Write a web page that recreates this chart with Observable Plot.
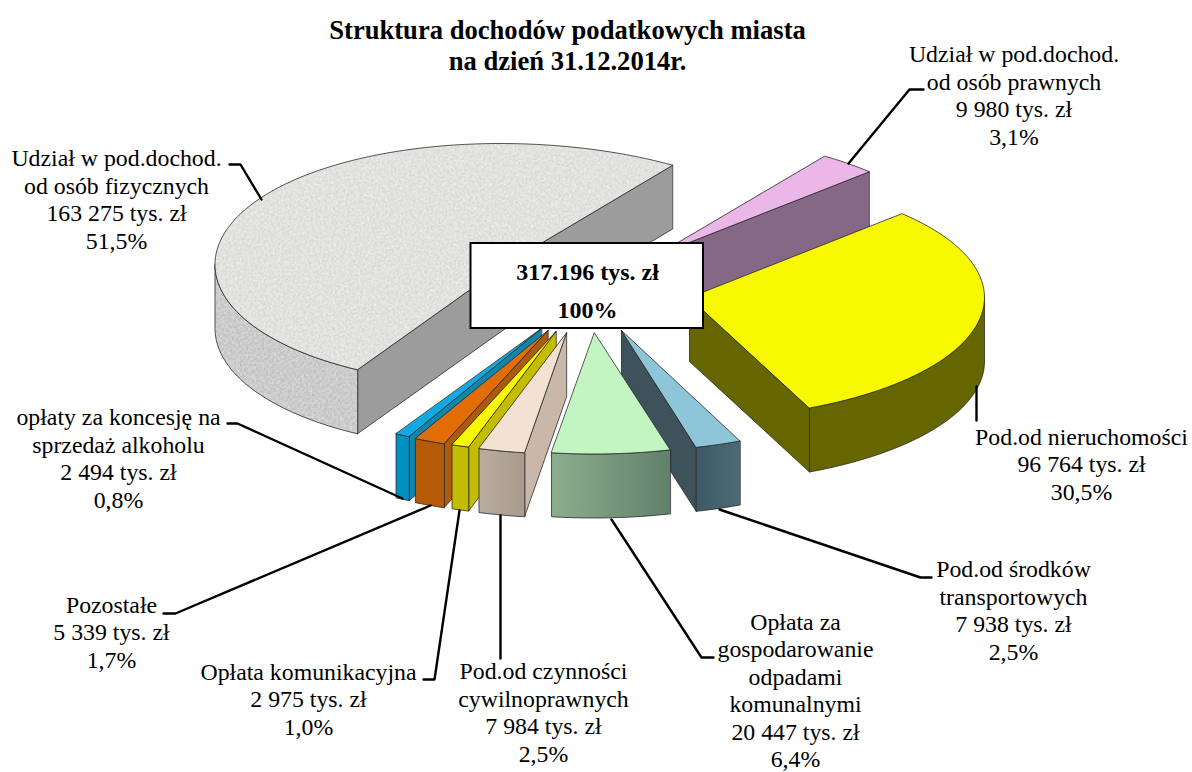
<!DOCTYPE html>
<html lang="pl">
<head>
<meta charset="utf-8">
<title>Struktura dochodów podatkowych miasta</title>
<script src="https://cdn.jsdelivr.net/npm/d3@7"></script>
<script src="https://cdn.jsdelivr.net/npm/@observablehq/plot@0.6"></script>
<style>html,body{margin:0;padding:0;background:#fff}</style>
</head>
<body>
<div id="chart"></div>
<script>
// ---------- data (clockwise from the pink slice) ----------
const categories = [
  "Udział w pod.dochod.\nod osób prawnych",
  "Pod.od nieruchomości",
  "Pod.od środków\ntransportowych",
  "Opłata za\ngospodarowanie\nodpadami\nkomunalnymi",
  "Pod.od czynności\ncywilnoprawnych",
  "Opłata komunikacyjna",
  "Pozostałe",
  "opłaty za koncesję na\nsprzedaż alkoholu",
  "Udział w pod.dochod.\nod osób fizycznych"
];
const amounts = [9980, 96764, 7938, 20447, 7984, 2975, 5339, 2494, 163275];
const amountLabels = ["9 980 tys. zł","96 764 tys. zł","7 938 tys. zł","20 447 tys. zł","7 984 tys. zł","2 975 tys. zł","5 339 tys. zł","2 494 tys. zł","163 275 tys. zł"];
const shareLabels = ["3,1%","30,5%","2,5%","6,4%","2,5%","1,0%","1,7%","0,8%","51,5%"];
const titleLines = "Struktura dochodów podatkowych miasta\nna dzień 31.12.2014r.";
const totalLines = ["317.196 tys. zł", "100%"];

// ---------- layout and style ----------
const W = 1192, H = 772;
const RX = 295.5, RY = 121, DEPTH = 64, START = -55.2;
const apexX = [655.5, 689, 621, 594, 566, 555.5, 547.5, 541, 505];
const apexY = [255, 297, 330, 332.5, 332.5, 331, 330, 328, 264];
const rimCx = [655.5, 688.5, 619, 593, 566, 555.5, 547.5, 541, 500];
const bend = [0, 0, 0, 0, 0, 0, 0, 0, 10];
const topFill = ["#ebb6e8","#f8f800","#8ec5d8","#c3f5c3","#f3e1d3","#f8f800","#e26c05","#10a9e2","url(#graniteTop)"];
const sideFill = ["#856786","#666600","#3d525a","#64806a","#c9b8aa","#c4bc00","#ad5a0c","#0e86ae","#9c9c9c"];
const rimFill = ["#856786","#666600","url(#rimTeal)","url(#rimGreen)","url(#rimBeige)","#c4bc00","#b65a07","#0090c2","url(#graniteSide)"];

const labelX = [1013.5, 1081, 1013, 795, 543, 308, 111, 118, 116];
const labelY = [94, 463, 609, 689, 711, 698, 631, 457, 198];
const labelLeading = [1.165, 1.165, 1.165, 1.155, 1.165, 1.165, 1.165, 1.165, 1.165];
const leaders = [
  [[848,163],[909,89],[923,89]],
  [[976,386],[976,420]],
  [[719,509],[920,577],[931,577]],
  [[611,519],[701,657],[713,657]],
  [[500,515],[500,658]],
  [[459,510],[434,679],[423,679]],
  [[430,505],[175,613],[163,613]],
  [[402,498],[237,423],[227,423]],
  [[261,199],[240,164],[229,164]]
];

// ---------- slice geometry from the values ----------
const total = d3.sum(amounts);
const sweep = amounts.map(v => v / total * 360);
const rad = d => d * Math.PI / 180;
const polys = [];
let a0 = START;
const slices = amounts.map((v, i) => {
  const s = {i, a0, a1: a0 + sweep[i]};
  a0 = s.a1;
  return s;
});
function rim(i, a) {
  const c = Math.cos(rad(a)), s = Math.sin(rad(a));
  return [rimCx[i] + RX * c + bend[i] * c * c, apexY[i] + RY * s];
}
function arc(i, from, to) {
  const n = Math.max(2, Math.ceil(Math.abs(to - from) / 2));
  return d3.range(n + 1).map(k => rim(i, from + (to - from) * k / n));
}
function add(id, pts, fill) { pts.forEach(p => polys.push({id, x: p[0], y: p[1], fill})); }
const down = p => [p[0], p[1] + DEPTH];

function sliceFaces(s) {
  const i = s.i, A = [apexX[i], apexY[i]];
  const p0 = rim(i, s.a0), p1 = rim(i, s.a1);
  // radial faces that look towards the viewer
  if (p1[0] > A[0]) add(`r1${i}`, [p1, A, down(A), down(p1)], sideFill[i]);
  if (p0[0] < A[0]) add(`r0${i}`, [A, p0, down(p0), down(A)], sideFill[i]);
  // outer wall: only the front half of the ellipse is visible
  for (const off of [0, 360]) {
    const f = Math.max(s.a0, off), t = Math.min(s.a1, off + 180);
    if (t > f) {
      const top = arc(i, f, t);
      add(`w${i}${off}`, [...top, ...top.slice().reverse().map(down)], rimFill[i]);
    }
  }
  add(`t${i}`, [A, ...arc(i, s.a0, s.a1)], topFill[i]);
}
// back-to-front
[8, 0, 1, 2, 3, 7, 6, 5, 4].forEach(i => sliceFaces(slices[i]));

const labels = categories.map((c, i) => ({
  x: labelX[i], y: labelY[i], leading: labelLeading[i],
  text: [c, amountLabels[i], shareLabels[i]].join("\n")
}));
const leaderRows = leaders.flatMap((l, i) => l.map(p => ({id: i, x: p[0], y: p[1]})));

const font = "Liberation Serif";
const chart = Plot.plot({
  width: W, height: H,
  margin: 0,
  style: {background: "#fff"},
  x: {domain: [0, W], range: [0, W], axis: null},
  y: {domain: [0, H], range: [0, H], axis: null},
  color: {type: "identity"},
  marks: [
    Plot.line(polys, {x: "x", y: "y", z: "id", fill: "fill", stroke: "#2a2a2a", strokeWidth: 0.8, curve: "linear-closed"}),
    Plot.line(leaderRows, {x: "x", y: "y", z: "id", stroke: "#000", strokeWidth: 2.4, strokeLinejoin: "miter"}),
    Plot.rect([{x1: 470.5, x2: 703, y1: 243, y2: 328}], {x1: "x1", x2: "x2", y1: "y1", y2: "y2", fill: "#fff", stroke: "#000", strokeWidth: 2}),
    Plot.text(totalLines, {x: () => 587, y: (d, i) => [272, 310][i], text: d => d, fontFamily: font, fontWeight: "bold", fontSize: 24, fill: "#000"}),
    Plot.text([titleLines], {x: () => 567, y: () => 44, text: d => d, fontFamily: font, fontWeight: "bold", fontSize: 26.6, lineHeight: 1.15, fill: "#000"}),
    ...labels.map(l => Plot.text([l], {x: "x", y: "y", text: "text", fontFamily: font, fontSize: 23.8, lineHeight: l.leading, fill: "#000"}))
  ]
});

const defs = d3.select(chart).insert("defs", ":first-child");
defs.html(`
  <filter id="noiseTop" x="0" y="0" width="100%" height="100%" color-interpolation-filters="sRGB">
    <feTurbulence type="fractalNoise" baseFrequency="0.55" numOctaves="3" seed="4"/>
    <feColorMatrix type="matrix" values="0.22 0 0 0 0.775  0.22 0 0 0 0.775  0.22 0 0 0 0.765  0 0 0 0 1"/>
  </filter>
  <filter id="noiseSide" x="0" y="0" width="100%" height="100%" color-interpolation-filters="sRGB">
    <feTurbulence type="fractalNoise" baseFrequency="0.5" numOctaves="3" seed="9"/>
    <feColorMatrix type="matrix" values="0.3 0 0 0 0.65  0.3 0 0 0 0.65  0.3 0 0 0 0.65  0 0 0 0 1"/>
  </filter>
  <pattern id="graniteTop" patternUnits="userSpaceOnUse" width="800" height="400">
    <rect width="800" height="400" filter="url(#noiseTop)"/>
  </pattern>
  <pattern id="graniteSide" patternUnits="userSpaceOnUse" width="800" height="500">
    <rect width="800" height="500" filter="url(#noiseSide)"/>
  </pattern>
  <linearGradient id="rimGreen"><stop offset="0" stop-color="#8cae8e"/><stop offset="1" stop-color="#62806a"/></linearGradient>
  <linearGradient id="rimTeal"><stop offset="0" stop-color="#3e5a64"/><stop offset="1" stop-color="#4a6b76"/></linearGradient>
  <linearGradient id="rimBeige"><stop offset="0" stop-color="#baac9f"/><stop offset="1" stop-color="#a89b8e"/></linearGradient>
`);
document.getElementById("chart").append(chart);
</script>
</body>
</html>
